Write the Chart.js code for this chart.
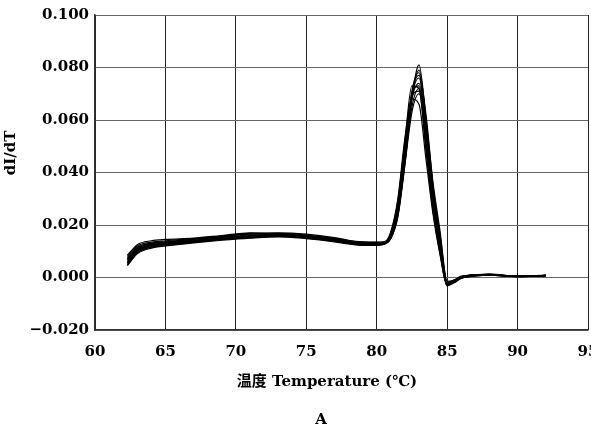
<!DOCTYPE html>
<html>
<head>
<meta charset="utf-8">
<script src="https://cdn.jsdelivr.net/npm/chart.js@4/dist/chart.umd.min.js"></script>
<style>
  html, body { margin: 0; padding: 0; background: #fff; overflow: hidden; }
  #wrap { position: relative; width: 591px; height: 431px; overflow: hidden; }
  #curvaFusion { display: block; }
</style>
</head>
<body>
<div id="wrap"><canvas id="curvaFusion" width="600" height="431"></canvas></div>
<script>
// Temperaturas (eje X) compartidas por todas las curvas
const temperaturas = [62.3, 63, 64, 65, 67, 69, 71, 73, 75, 77, 78, 79, 80,
  80.5, 81, 81.5, 82, 82.5, 83, 83.5, 84, 84.5, 85, 85.5, 86, 87, 88, 90, 92];

// Curvas dI/dT
const curva1  = [0.0085, 0.0125, 0.0140, 0.0145, 0.0150, 0.0160, 0.0170, 0.0165, 0.0160, 0.0150, 0.0140, 0.0135, 0.0135,
  0.0135, 0.0150, 0.0230, 0.0430, 0.0680, 0.0810, 0.0600, 0.0320, 0.0130, -0.0025, -0.0010, 0.0005, 0.0010, 0.0012, 0.0005, 0.0008];
const curva2  = [0.0075, 0.0115, 0.0130, 0.0135, 0.0145, 0.0155, 0.0165, 0.0168, 0.0162, 0.0148, 0.0138, 0.0132, 0.0130,
  0.0133, 0.0165, 0.0270, 0.0480, 0.0710, 0.0780, 0.0540, 0.0280, 0.0110, -0.0030, -0.0015, 0.0000, 0.0008, 0.0010, 0.0004, 0.0007];
const curva3  = [0.0060, 0.0105, 0.0125, 0.0130, 0.0140, 0.0150, 0.0158, 0.0162, 0.0158, 0.0145, 0.0135, 0.0128, 0.0128,
  0.0130, 0.0155, 0.0250, 0.0460, 0.0690, 0.0760, 0.0580, 0.0330, 0.0150, -0.0020, -0.0012, 0.0002, 0.0009, 0.0011, 0.0004, 0.0008];
const curva4  = [0.0050, 0.0095, 0.0118, 0.0125, 0.0135, 0.0145, 0.0152, 0.0160, 0.0155, 0.0142, 0.0132, 0.0126, 0.0125,
  0.0128, 0.0170, 0.0290, 0.0520, 0.0730, 0.0720, 0.0480, 0.0250, 0.0090, -0.0030, -0.0018, -0.0003, 0.0006, 0.0009, 0.0003, 0.0006];
const curva5  = [0.0070, 0.0110, 0.0128, 0.0132, 0.0142, 0.0152, 0.0162, 0.0160, 0.0152, 0.0140, 0.0130, 0.0125, 0.0127,
  0.0131, 0.0160, 0.0260, 0.0470, 0.0680, 0.0740, 0.0560, 0.0300, 0.0120, -0.0022, -0.0014, 0.0001, 0.0008, 0.0012, 0.0005, 0.0007];
const curva6  = [0.0055, 0.0100, 0.0120, 0.0127, 0.0138, 0.0148, 0.0155, 0.0157, 0.0150, 0.0138, 0.0130, 0.0124, 0.0124,
  0.0127, 0.0150, 0.0240, 0.0440, 0.0650, 0.0720, 0.0570, 0.0340, 0.0160, -0.0018, -0.0010, 0.0003, 0.0010, 0.0011, 0.0004, 0.0009];
const curva7  = [0.0045, 0.0090, 0.0112, 0.0120, 0.0132, 0.0142, 0.0150, 0.0155, 0.0148, 0.0136, 0.0128, 0.0122, 0.0122,
  0.0126, 0.0148, 0.0235, 0.0430, 0.0630, 0.0700, 0.0590, 0.0360, 0.0175, -0.0015, -0.0010, 0.0002, 0.0009, 0.0010, 0.0004, 0.0008];
const curva8  = [0.0065, 0.0108, 0.0124, 0.0130, 0.0140, 0.0150, 0.0160, 0.0164, 0.0156, 0.0143, 0.0134, 0.0129, 0.0129,
  0.0132, 0.0175, 0.0300, 0.0530, 0.0680, 0.0660, 0.0450, 0.0240, 0.0085, -0.0032, -0.0020, -0.0004, 0.0006, 0.0009, 0.0003, 0.0006];
const curva9  = [0.0080, 0.0120, 0.0135, 0.0140, 0.0148, 0.0158, 0.0168, 0.0170, 0.0165, 0.0152, 0.0142, 0.0136, 0.0134,
  0.0136, 0.0158, 0.0245, 0.0450, 0.0700, 0.0770, 0.0620, 0.0350, 0.0140, -0.0020, -0.0012, 0.0002, 0.0010, 0.0013, 0.0005, 0.0008];
const curva10 = [0.0058, 0.0102, 0.0122, 0.0128, 0.0137, 0.0147, 0.0157, 0.0163, 0.0158, 0.0146, 0.0136, 0.0130, 0.0130,
  0.0132, 0.0162, 0.0275, 0.0500, 0.0700, 0.0730, 0.0520, 0.0280, 0.0105, -0.0027, -0.0016, -0.0001, 0.0007, 0.0010, 0.0004, 0.0007];
const curva11 = [0.0068, 0.0112, 0.0130, 0.0136, 0.0146, 0.0156, 0.0166, 0.0166, 0.0160, 0.0146, 0.0136, 0.0130, 0.0131,
  0.0133, 0.0155, 0.0245, 0.0455, 0.0690, 0.0790, 0.0600, 0.0310, 0.0125, -0.0024, -0.0013, 0.0002, 0.0009, 0.0012, 0.0005, 0.0008];
const curva12 = [0.0048, 0.0094, 0.0115, 0.0122, 0.0134, 0.0144, 0.0152, 0.0158, 0.0152, 0.0140, 0.0131, 0.0125, 0.0125,
  0.0129, 0.0168, 0.0285, 0.0510, 0.0690, 0.0710, 0.0500, 0.0270, 0.0100, -0.0028, -0.0017, -0.0002, 0.0007, 0.0009, 0.0003, 0.0006];

const curvas = [curva1, curva2, curva3, curva4, curva5, curva6, curva7, curva8, curva9, curva10, curva11, curva12];

// Ticks de los ejes
const ticksX = [60, 65, 70, 75, 80, 85, 90, 95];
const ticksY = [-0.02, 0, 0.02, 0.04, 0.06, 0.08, 0.1];

const tituloX = "温度 Temperature (℃)";
const tituloY = "dI/dT";
const etiquetaPanel = "A";

const fuente = "'DejaVu Serif', 'Noto Sans CJK SC', serif";

// Plugin: titulos de ejes y letra del panel
const titulosPlugin = {
  id: "titulos",
  afterDraw(chart) {
    const ctx = chart.ctx;
    ctx.save();
    ctx.fillStyle = "#000";
    ctx.font = "bold 15px " + fuente;
    ctx.textAlign = "center";
    ctx.textBaseline = "alphabetic";
    ctx.fillText(tituloX, 327, 386);
    ctx.fillText(etiquetaPanel, 321, 424);
    ctx.translate(15, 153);
    ctx.rotate(-Math.PI / 2);
    ctx.fillText(tituloY, 0, 0);
    ctx.restore();
  }
};

function renderCurvas() {
  const ctx = document.getElementById("curvaFusion");

  const datasets = curvas.map((c, i) => ({
    label: "Muestra " + (i + 1),
    data: temperaturas.map((t, k) => ({ x: t, y: c[k] })),
    borderColor: "#000",
    borderWidth: 1.2,
    pointRadius: 0,
    fill: false,
    cubicInterpolationMode: "monotone"
  }));

  new Chart(ctx, {
    type: "line",
    data: { datasets },
    options: {
      responsive: false,
      animation: false,
      layout: { padding: { top: 14, right: 12, left: 0, bottom: 0 } },
      plugins: { legend: { display: false }, tooltip: { enabled: false } },
      scales: {
        x: {
          type: "linear",
          min: 60,
          max: 95,
          // alto fijo y sin relleno lateral por las etiquetas
          afterFit(scale) {
            scale.height = 101;
            scale.paddingLeft = 0;
            scale.paddingRight = 0;
          },
          afterBuildTicks(scale) { scale.ticks = ticksX.map(v => ({ value: v })); },
          ticks: {
            padding: 13,
            color: "#000",
            font: { family: fuente, size: 15, weight: "bold" },
            maxRotation: 0
          },
          grid: { color: "#222", lineWidth: 1, drawTicks: false },
          border: { color: "#333", width: 1.5 }
        },
        y: {
          min: -0.02,
          max: 0.1,
          afterFit(scale) { scale.width = 95; },
          afterBuildTicks(scale) { scale.ticks = ticksY.map(v => ({ value: v })); },
          ticks: {
            padding: 6,
            color: "#000",
            font: { family: fuente, size: 15, weight: "bold" },
            callback: v => (v < 0 ? "\u2212" : "") + Math.abs(v).toFixed(3)
          },
          grid: { color: "#666", lineWidth: 1, drawTicks: false },
          border: { color: "#333", width: 1.5 }
        }
      }
    },
    plugins: [titulosPlugin]
  });
}

document.addEventListener("DOMContentLoaded", renderCurvas);
</script>
</body>
</html>
